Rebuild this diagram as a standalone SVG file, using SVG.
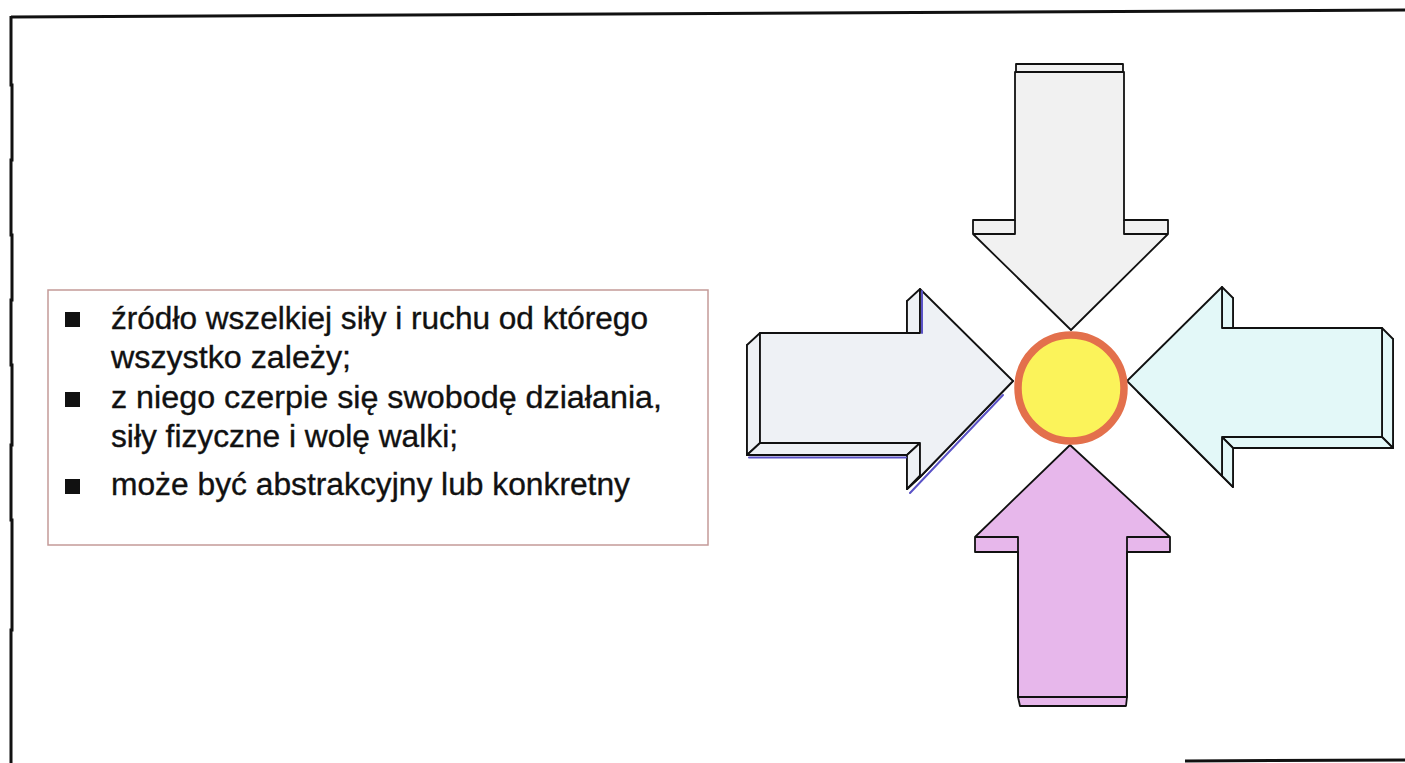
<svg xmlns="http://www.w3.org/2000/svg" width="1405" height="763" viewBox="0 0 1405 763">
  <style>
    .frame { fill: none; stroke: #111; stroke-width: 3; }
    .box { fill: #ffffff; stroke: #c49a98; stroke-width: 1.5; }
    .txt { font-family: "Liberation Sans", Arial, sans-serif; font-size: 31px; fill: #111; stroke: #111; stroke-width: 0.35; }
    .bullet { fill: #111; }
    .edge { stroke: #111; stroke-width: 1.8; stroke-linejoin: round; }
    .gray { fill: #f1f1f1; }
    .steel { fill: #eef1f5; }
    .cyan { fill: #e3f8f8; }
    .pink { fill: #e7b7eb; }
    .shadow { fill: none; stroke: #5a52c6; stroke-width: 2; stroke-linecap: round; }
  </style>

  <rect width="1405" height="763" fill="#ffffff"/>

  <!-- page frame -->
  <g id="frame">
    <path class="frame" d="M11,17 L1405,10"/>
    <path class="frame" d="M11,16 L11,85 L12,85 L12,160 L11,160 L11,235 L12,235 L12,300 L11,300 L11,365 L12,365 L12,445 L11,445 L11,520 L12,520 L12,630 L11,630 L11,763"/>
    <path class="frame" d="M1185,761 L1405,760"/>
  </g>

  <!-- bullet list -->
  <g id="textbox">
    <rect class="box" x="48" y="290" width="660" height="255"/>
    <rect class="bullet" x="65" y="312" width="15" height="15"/>
    <rect class="bullet" x="65" y="392" width="15" height="15"/>
    <rect class="bullet" x="65" y="479" width="15" height="15"/>
    <text class="txt" x="111" y="329" textLength="537" lengthAdjust="spacingAndGlyphs">źródło wszelkiej siły i ruchu od którego</text>
    <text class="txt" x="111" y="368" textLength="240" lengthAdjust="spacingAndGlyphs">wszystko zależy;</text>
    <text class="txt" x="111" y="408" textLength="551" lengthAdjust="spacingAndGlyphs">z niego czerpie się swobodę działania,</text>
    <text class="txt" x="111" y="447" textLength="347" lengthAdjust="spacingAndGlyphs">siły fizyczne i wolę walki;</text>
    <text class="txt" x="111" y="495" textLength="519" lengthAdjust="spacingAndGlyphs">może być abstrakcyjny lub konkretny</text>
  </g>

  <!-- arrow pointing down -->
  <g id="arrow-top" class="edge gray">
    <rect x="1016" y="64" width="107" height="8"/>
    <path d="M1015,72 L1124,72 L1124,220 L1168,220 L1168,234 L1071,330 L973,234 L973,220 L1015,220 Z"/>
    <path fill="none" d="M973,234 L1015,234 L1015,220 M1124,220 L1124,234 L1168,234"/>
  </g>

  <!-- arrow pointing right (extruded down-left) -->
  <g id="arrow-left" class="edge steel">
    <polygon points="747,345 907,345 907,301 1000,393 907,489 907,455 747,455"/>
    <polygon points="760,333 747,345 747,455 760,443"/>
    <polygon points="760,443 920,443 907,455 747,455"/>
    <polygon points="920,443 920,477 907,489 907,455"/>
    <polygon points="920,477 1013,381 1000,393 907,489"/>
    <polygon points="920,289 920,333 907,345 907,301"/>
    <polygon points="760,333 920,333 920,289 1013,381 920,477 920,443 760,443"/>
  </g>

  <!-- arrow pointing left (extruded down-right) -->
  <g id="arrow-right" class="edge cyan">
    <polygon points="1138,392 1233,298 1233,339 1393,339 1393,448 1233,448 1233,487"/>
    <polygon points="1222,287 1233,298 1233,339 1222,328"/>
    <polygon points="1382,328 1393,339 1393,448 1382,437"/>
    <polygon points="1222,437 1382,437 1393,448 1233,448"/>
    <polygon points="1222,437 1233,448 1233,487 1222,476"/>
    <polygon points="1127,381 1222,287 1222,328 1382,328 1382,437 1222,437 1222,476"/>
  </g>

  <!-- arrow pointing up -->
  <g id="arrow-bottom" class="edge pink">
    <path d="M1070,445 L1170,537 L1170,552 L1127,552 L1127,697 L1126,706 L1020,706 L1018,697 L1018,552 L975,552 L975,537 Z"/>
    <path fill="none" d="M975,537 L1018,537 L1018,697 L1127,697 L1127,537 L1170,537"/>
  </g>

  <!-- bluish print shadow along the lower edges of the right-pointing arrow -->
  <g id="connectors">
    <path class="shadow" d="M749,457.5 L906,457.5 M922,291 L922,333 M1003,395 L910,493"/>
  </g>

  <!-- centre of gravity -->
  <g id="centre">
    <circle cx="1071" cy="388" r="53" fill="#fbf35a" stroke="#e3704c" stroke-width="7.5"/>
  </g>
</svg>
